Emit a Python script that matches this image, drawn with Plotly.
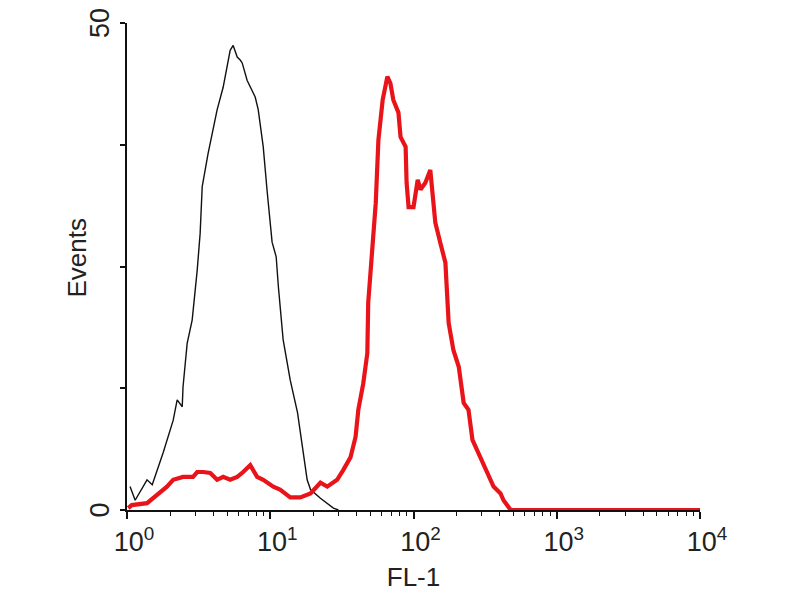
import plotly.graph_objects as go

# Black (control) histogram
black_x = [1.05, 1.14, 1.38, 1.50, 1.79, 2.10, 2.24, 2.43, 2.46, 2.63, 2.85, 3.09, 3.24, 3.35,
           3.68, 3.93, 4.26, 4.69, 5.08, 5.25, 5.51, 5.88, 6.17, 6.37, 6.90, 7.85, 8.24, 8.93,
           9.53, 10.3, 11.0, 11.4, 12.3, 13.8, 15.5, 16.7, 18.1, 19.1, 22.4, 27.6, 29.9]
black_y = [2.4, 1.0, 3.1, 2.6, 5.9, 9.2, 11.3, 10.6, 12.6, 17.1, 19.5, 24.6, 28.4, 33.2,
           36.6, 38.7, 41.1, 43.4, 45.9, 47.2, 47.7, 46.5, 46.2, 45.9, 44.1, 42.4, 41.1, 37.3,
           32.6, 27.5, 26.0, 22.9, 17.5, 13.3, 10.0, 6.5, 3.1, 2.1, 1.2, 0.2, 0.0]

# Red (stained) histogram
red_x = [1.02, 1.08, 1.38, 1.62, 1.90, 2.10, 2.46, 2.89, 3.09, 3.40, 3.81, 4.26, 4.69, 5.25,
         5.88, 6.47, 7.25, 8.10, 8.93, 10.5, 11.7, 13.8, 16.2, 19.1, 22.4, 25.0, 29.3, 32.3,
         36.3, 39.4, 41.2, 44.6, 47.6, 48.3, 51.9, 54.5, 56.9, 60.9, 65.7, 69.0, 72.3, 78.5,
         81.2, 88.1, 89.5, 92.4, 100, 107, 112, 121, 131, 135, 142, 154, 167, 176, 190, 207,
         224, 242, 258, 283, 327, 362, 405, 425, 477, 10000]
red_y = [0.2, 0.5, 0.7, 1.5, 2.4, 3.1, 3.4, 3.4, 3.9, 3.9, 3.8, 3.1, 3.4, 3.1,
         3.4, 3.9, 4.6, 3.4, 3.1, 2.4, 2.1, 1.3, 1.3, 1.7, 2.8, 2.4, 3.1, 4.1,
         5.4, 7.5, 10.3, 13.0, 16.1, 21.3, 27.0, 31.5, 38.0, 42.1, 44.5, 43.8, 42.1, 40.8,
         38.3, 37.3, 33.6, 31.1, 31.1, 33.9, 32.9, 33.6, 34.9, 32.9, 29.5, 27.4, 25.4, 19.2, 16.4, 14.7,
         11.0, 10.3, 7.2, 5.9, 3.8, 2.4, 1.7, 1.0, 0.0, 0.0]

x_tick_vals = [1, 10, 100, 1000, 10000]
x_tick_text = ["10<sup>0</sup>", "10<sup>1</sup>", "10<sup>2</sup>", "10<sup>3</sup>", "10<sup>4</sup>"]
y_tick_vals = [0, 12.5, 25, 37.5, 50]
y_tick_text = ["0", "", "", "", "50"]
minor_vals = [m * 10 ** d for d in range(4) for m in range(2, 10)]

fig = go.Figure()
fig.add_trace(go.Scatter(x=black_x, y=black_y, mode="lines",
                         line=dict(color="#111111", width=1.4), showlegend=False))
fig.add_trace(go.Scatter(x=red_x, y=red_y, mode="lines",
                         line=dict(color="#e8141a", width=4.2), showlegend=False))

font_family = "Liberation Sans, Arial, sans-serif"
fig.update_layout(
    width=784, height=584,
    margin=dict(l=119, r=92, t=15, b=82, autoexpand=False),
    paper_bgcolor="white", plot_bgcolor="white",
    font=dict(family=font_family, color="#222222", size=26),
    xaxis=dict(
        type="log", range=[0, 4], automargin=False,
        showline=True, linecolor="#111111", linewidth=2,
        showgrid=False, zeroline=False,
        tickvals=x_tick_vals, ticktext=x_tick_text,
        ticks="outside", ticklen=7, tickwidth=1.5, tickcolor="#111111",
        tickfont=dict(size=27), ticklabeloverflow="allow", ticklabelshift=7,
        minor=dict(tickvals=minor_vals, ticks="outside", ticklen=4, tickwidth=1, tickcolor="#111111"),
        title=dict(text="FL-1", font=dict(size=26), standoff=16),
    ),
    yaxis=dict(
        range=[0, 50], automargin=False,
        showline=True, linecolor="#111111", linewidth=2,
        showgrid=False, zeroline=False,
        tickvals=y_tick_vals, ticktext=y_tick_text, tickangle=-90,
        ticks="outside", ticklen=5, tickwidth=1.5, tickcolor="#111111",
        tickfont=dict(size=27), ticklabeloverflow="allow", ticklabelshift=4,
    ),
    annotations=[dict(
        text="Events", textangle=-90, font=dict(size=26),
        xref="paper", yref="paper", x=0, y=0.5,
        xanchor="center", yanchor="middle", xshift=-51, yshift=9,
        showarrow=False,
    )],
)

fig.write_html("out.html")
